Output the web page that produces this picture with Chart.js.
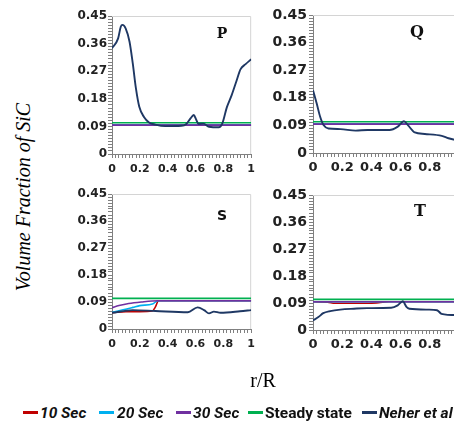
<!DOCTYPE html>
<html>
<head>
<meta charset="utf-8">
<script src="https://cdn.jsdelivr.net/npm/chart.js@4.4.0/dist/chart.umd.min.js"></script>
<style>
  html, body { margin: 0; padding: 0; background: #fff; overflow: hidden; }
  body { width: 454px; height: 428px; position: relative; }
  canvas { position: absolute; }
  .letter { position: absolute; transform: translate(-50%, -50%); color: #111; }
  #ylab { position: absolute; left: 23px; top: 197px; transform: translate(-50%, -50%) rotate(-90deg);
          font: italic 20px "Liberation Serif", serif; white-space: nowrap; color: #000; }
  #xlab { position: absolute; left: 263px; top: 380px; transform: translate(-50%, -50%);
          font: 20px "Liberation Serif", serif; color: #000; }
  .lg { position: absolute; top: 413px; transform: translateY(-50%); font: bold italic 15.5px Roboto, sans-serif;
        color: #111; white-space: nowrap; }
  .lg.up { font-style: normal; }
  .sw { position: absolute; top: 411px; height: 2.5px; width: 15px; }
</style>
</head>
<body>
<canvas id="pP" width="200" height="190" style="left:60px;top:0px"></canvas>
<canvas id="pQ" width="210" height="190" style="left:260px;top:0px"></canvas>
<canvas id="pS" width="200" height="190" style="left:60px;top:180px"></canvas>
<canvas id="pT" width="210" height="190" style="left:260px;top:180px"></canvas>

<div class="letter" style="left:222px;top:33px;font:bold 14px 'DejaVu Serif',serif">P</div>
<div class="letter" style="left:417px;top:31px;font:bold 16px 'DejaVu Serif',serif">Q</div>
<div class="letter" style="left:222px;top:215px;font:bold 14px 'DejaVu Sans',sans-serif">S</div>
<div class="letter" style="left:420px;top:210px;font:bold 16px 'DejaVu Serif',serif">T</div>

<div id="ylab">Volume Fraction of SiC</div>
<div id="xlab">r/R</div>

<div class="sw" style="left:23px;background:#c00000"></div><div class="lg" style="left:40px">10 Sec</div>
<div class="sw" style="left:99px;background:#00b0f0"></div><div class="lg" style="left:117px">20 Sec</div>
<div class="sw" style="left:176px;background:#7030a0"></div><div class="lg" style="left:193px">30 Sec</div>
<div class="sw" style="left:248px;background:#00b050"></div><div class="lg up" style="left:265px">Steady state</div>
<div class="sw" style="left:362px;background:#1f3864"></div><div class="lg" style="left:379px">Neher et al</div>

<script>
// axis ticks
const xMajor = [0, 0.2, 0.4, 0.6, 0.8, 1];
const yMajor = [0, 0.09, 0.18, 0.27, 0.36, 0.45];

// flat model lines (all panels)
const flatR = [0, 1];
const steady = [0.102, 0.102];
const sec30 = [0.094, 0.094];

// panel P
const pR = [0, 0.044, 0.063, 0.075, 0.098, 0.126, 0.149, 0.172, 0.196, 0.231, 0.266, 0.312, 0.382, 0.499, 0.534,
            0.564, 0.587, 0.606, 0.622, 0.657, 0.697, 0.767, 0.793, 0.825, 0.86, 0.895, 0.923, 0.96, 1];
const pNeher = [0.345, 0.377, 0.415, 0.421, 0.41, 0.366, 0.296, 0.214, 0.154, 0.12, 0.103, 0.096, 0.091, 0.092, 0.098,
                0.116, 0.127, 0.111, 0.098, 0.099, 0.089, 0.087, 0.1, 0.152, 0.192, 0.239, 0.276, 0.293, 0.309];

// panel Q
const qR = [0, 0.025, 0.049, 0.072, 0.106, 0.188, 0.292, 0.373, 0.523, 0.581, 0.623, 0.65, 0.697, 0.766, 0.882, 0.928, 0.979, 1];
const qNeher = [0.205, 0.162, 0.118, 0.091, 0.08, 0.078, 0.073, 0.075, 0.075, 0.086, 0.104, 0.091, 0.067, 0.062, 0.056, 0.048, 0.042, 0.041];

// panel S
const sR = [0, 0.149, 0.312, 0.545, 0.615, 0.662, 0.697, 0.732, 0.78, 0.92, 1];
const sNeher = [0.054, 0.063, 0.06, 0.056, 0.072, 0.063, 0.052, 0.058, 0.054, 0.059, 0.063];
const s10R = [0, 0.1, 0.2, 0.29, 0.31, 0.335, 1];
const s10 = [0.054, 0.058, 0.058, 0.06, 0.072, 0.094, 0.094];
const s20R = [0, 0.08, 0.15, 0.2, 0.29, 0.33, 1];
const s20 = [0.056, 0.064, 0.072, 0.078, 0.083, 0.094, 0.094];
const s30R = [0, 0.05, 0.12, 0.21, 0.33, 1];
const s30 = [0.071, 0.078, 0.085, 0.09, 0.094, 0.094];

// panel T
const tR = [0, 0.037, 0.07, 0.118, 0.187, 0.28, 0.37, 0.535, 0.58, 0.615, 0.64, 0.66, 0.79, 0.85, 0.88, 0.98, 1];
const tNeher = [0.032, 0.043, 0.056, 0.063, 0.068, 0.071, 0.073, 0.074, 0.082, 0.096, 0.077, 0.071, 0.068, 0.066, 0.054, 0.05, 0.05];
const t10R = [0, 0.1, 0.15, 0.38, 0.45, 0.52, 1];
const t10 = [0.094, 0.093, 0.089, 0.089, 0.091, 0.094, 0.094];

const COLORS = { s10: '#c00000', s20: '#00b0f0', s30: '#7030a0', steady: '#00b050', neher: '#1f3864' };
const AXIS = '#808080';

const pts = (rs, vs) => rs.map((r, i) => ({ x: r, y: vs[i] }));
const isMajor = (v, list) => list.some(m => Math.abs(v - m) < 1e-6);

function series(neherR, neher, r10, v10, r20, v20, r30, v30) {
  // first dataset is drawn on top
  return [
    { data: pts(neherR, neher), borderColor: COLORS.neher, borderWidth: 1.9 },
    { data: pts(flatR, steady), borderColor: COLORS.steady },
    { data: pts(r30, v30), borderColor: COLORS.s30 },
    { data: pts(r20, v20), borderColor: COLORS.s20 },
    { data: pts(r10, v10), borderColor: COLORS.s10 }
  ];
}

const frame = {
  id: 'frame',
  beforeDatasetsDraw(chart) {
    const a = chart.chartArea, c = chart.ctx;
    c.save();
    c.strokeStyle = '#d4d4d4';
    c.lineWidth = 1;
    c.beginPath();
    c.moveTo(a.left, a.top + 0.5);
    c.lineTo(a.right - 0.5, a.top + 0.5);
    c.lineTo(a.right - 0.5, a.bottom);
    c.stroke();
    c.restore();
  }
};

function makePanel(id, opt, datasets) {
  new Chart(document.getElementById(id), {
    type: 'line',
    data: { datasets },
    options: {
      responsive: false,
      animation: false,
      layout: { padding: opt.padding },
      plugins: { legend: { display: false }, tooltip: { enabled: false } },
      elements: {
        point: { radius: 0 },
        line: { borderWidth: 1.6, cubicInterpolationMode: 'monotone', fill: false }
      },
      scales: {
        x: {
          type: 'linear', min: 0, max: 1,
          border: { color: AXIS },
          grid: { drawOnChartArea: false, tickLength: 4, tickColor: AXIS, tickWidth: 1 },
          ticks: {
            stepSize: 0.025, autoSkip: false, maxRotation: 0, padding: opt.xPad,
            color: '#222', font: { family: 'DejaVu Sans', weight: 'bold', size: opt.xFont },
            callback: v => isMajor(v, xMajor) ? (Math.abs(v) < 1e-6 ? '0' : Math.abs(v - 1) < 1e-6 ? '1' : v.toFixed(1)) : ' '
          },
          afterFit: s => { s.height = 26; }
        },
        y: {
          min: 0, max: 0.45,
          border: { color: AXIS },
          grid: { drawOnChartArea: false, tickLength: 4, tickColor: AXIS, tickWidth: 1 },
          ticks: {
            stepSize: 0.01, autoSkip: false, padding: opt.yPad,
            color: '#222', font: { family: 'DejaVu Sans', weight: 'bold', size: opt.yFont },
            callback: v => isMajor(v, yMajor) ? (Math.abs(v) < 1e-6 ? '0' : v.toFixed(2)) : ' '
          },
          afterFit: s => { s.width = opt.yw; }
        }
      }
    },
    plugins: [frame]
  });
}

makePanel('pP', { padding: { left: 0, top: 16, right: 5, bottom: 10 }, yw: 52, xFont: 11, yFont: 12, xPad: 5, yPad: 1 },
  series(pR, pNeher, flatR, sec30, flatR, sec30, flatR, sec30));
makePanel('pQ', { padding: { left: 0, top: 15, right: 11, bottom: 11 }, yw: 53, xFont: 13, yFont: 14, xPad: 3, yPad: 2 },
  series(qR, qNeher, flatR, sec30, flatR, sec30, flatR, sec30));
makePanel('pS', { padding: { left: 0, top: 14, right: 5, bottom: 15 }, yw: 52, xFont: 11, yFont: 12, xPad: 5, yPad: 1 },
  series(sR, sNeher, s10R, s10, s20R, s20, s30R, s30));
makePanel('pT', { padding: { left: 0, top: 15, right: 11, bottom: 14 }, yw: 53, xFont: 13, yFont: 14, xPad: 3, yPad: 2 },
  series(tR, tNeher, t10R, t10, flatR, sec30, flatR, sec30));
</script>
</body>
</html>
